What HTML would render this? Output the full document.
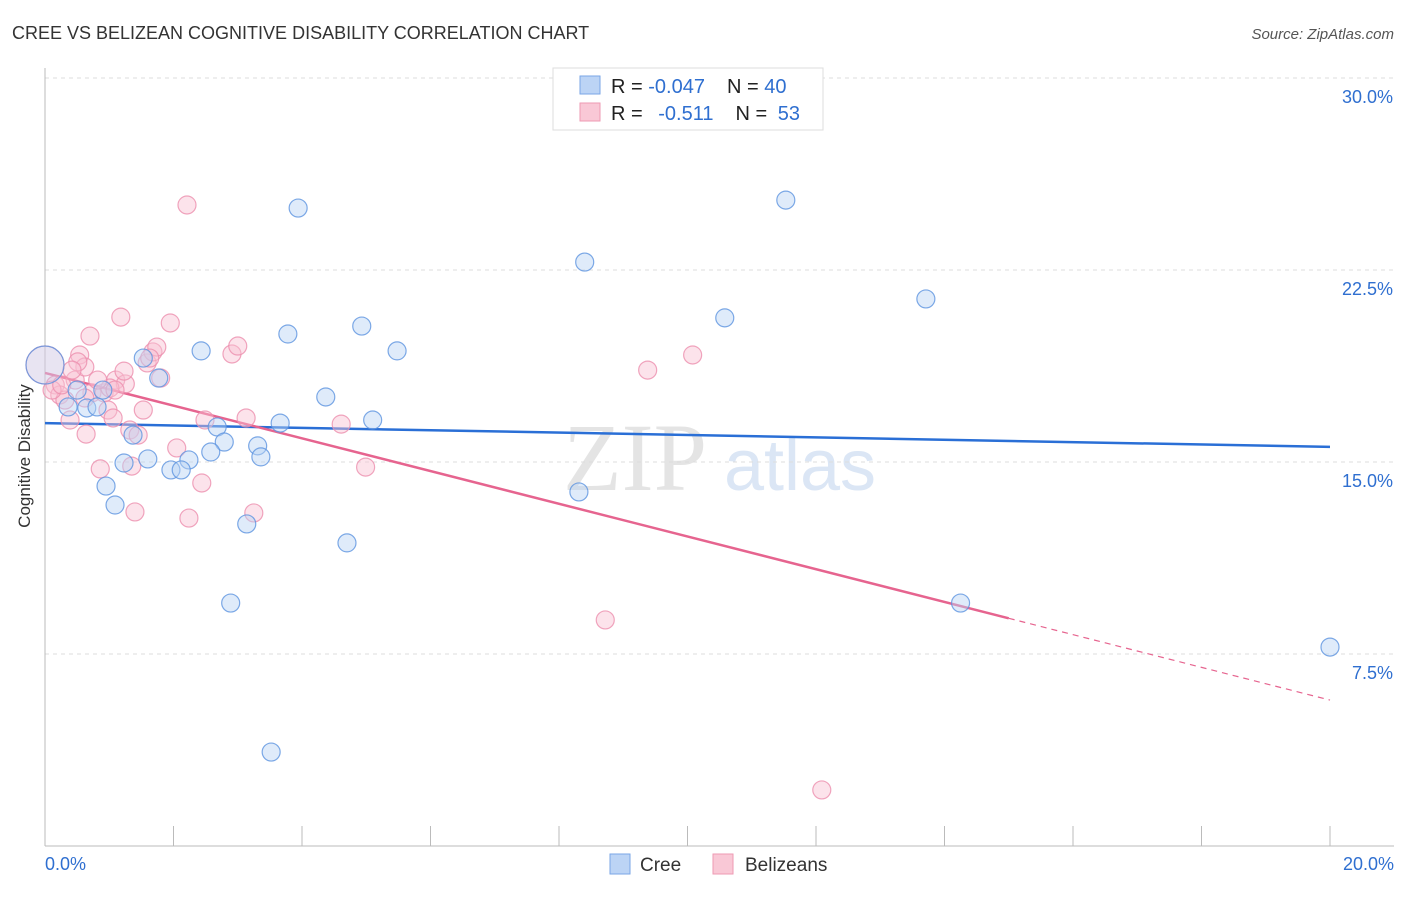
<!DOCTYPE html>
<html><head><meta charset="utf-8"><style>
body{margin:0;background:#fff;font-family:"Liberation Sans",sans-serif;}
svg text{font-family:"Liberation Sans",sans-serif;}
</style></head><body>
<svg id="chart" width="1406" height="892">
<text x="12" y="39" font-size="18" fill="#333">CREE VS BELIZEAN COGNITIVE DISABILITY CORRELATION CHART</text>
<text x="1394" y="39" font-size="15" fill="#555" text-anchor="end" font-style="italic">Source: ZipAtlas.com</text>
<text x="30" y="456" font-size="17" fill="#333" text-anchor="middle" transform="rotate(-90 30 456)">Cognitive Disability</text>
<g><text x="635" y="490" font-size="96" fill="#e4e4e4" text-anchor="middle" font-family="Liberation Serif" style="font-family:'Liberation Serif',serif">ZIP</text><text x="800" y="490" font-size="72" fill="#dbe6f5" text-anchor="middle">atlas</text></g>
<g id="grid"></g><g id="axes"></g><g id="trend"></g><g id="points"></g>
<g>
<rect x="553" y="68" width="270" height="62" fill="#fff" stroke="#ddd"/>
<rect x="580" y="76" width="20" height="18" fill="#bcd4f5" stroke="#7aa6e6"/>
<rect x="580" y="103" width="20" height="18" fill="#f9c8d6" stroke="#ee9ab3"/>
<text x="611" y="93" font-size="20" fill="#222">R = <tspan fill="#2f6fd0">-0.047</tspan><tspan dx="22">N = </tspan><tspan fill="#2f6fd0">40</tspan></text>
<text x="611" y="120" font-size="20" fill="#222">R = <tspan dx="10" fill="#2f6fd0">-0.511</tspan><tspan dx="22">N = </tspan><tspan dx="5" fill="#2f6fd0">53</tspan></text>
</g>
<g>
<rect x="610" y="854" width="20" height="20" fill="#bcd4f5" stroke="#7aa6e6"/>
<text x="640" y="871" font-size="19" fill="#333">Cree</text>
<rect x="713" y="854" width="20" height="20" fill="#f9c8d6" stroke="#ee9ab3"/>
<text x="745" y="871" font-size="19" fill="#333">Belizeans</text>
</g>
</svg>
<script>
const creeX=[0,0.50,0.36,0.65,0.81,1.53,1.77,2.43,3.78,3.94,4.93,5.48,4.37,5.10,3.66,2.68,2.79,2.58,3.31,3.36,2.24,1.60,1.23,1.96,2.12,0.95,1.09,1.37,3.14,4.70,2.89,3.52,8.40,8.31,10.58,11.53,13.71,14.25,20.0,0.90];
const creeY=[18.79,17.81,17.15,17.11,17.15,19.06,18.28,19.34,20.0,24.92,20.31,19.34,17.54,16.64,16.52,16.37,15.78,15.39,15.63,15.20,15.08,15.12,14.96,14.69,14.69,14.06,13.32,16.05,12.58,11.84,9.49,3.67,22.81,13.83,20.63,25.23,21.37,9.49,7.77,17.81];
const belX=[0,0.16,0.23,0.31,0.11,0.39,0.47,0.54,0.62,0.51,0.70,0.64,0.86,0.73,0.92,0.98,1.06,1.10,1.18,1.25,1.23,1.32,1.35,1.40,1.45,1.53,1.59,1.68,1.74,1.80,1.95,2.05,2.21,2.24,2.44,2.49,2.91,3.00,3.13,3.25,4.61,4.99,9.38,10.08,8.72,12.09,1.01,0.82,0.26,1.63,0.42,1.09,0.62];
const belY=[18.79,18.01,17.62,17.42,17.81,16.64,18.20,19.18,18.71,18.91,19.92,16.09,14.73,17.70,17.70,17.03,16.72,18.20,20.66,18.05,18.55,16.25,14.84,13.05,16.05,17.03,18.87,19.30,19.49,18.28,20.43,15.55,25.04,12.81,14.18,16.64,19.22,19.53,16.72,13.01,16.48,14.80,18.59,19.18,8.83,2.19,17.89,18.20,18.01,19.06,18.59,17.81,17.50];
const creeTrend=[16.52,15.59];
const belTrend=[18.48,5.7];
const belSolidEnd=15.0;
const yTicks=[7.5,15,22.5,30];
const yTickLabels=["7.5%","15.0%","22.5%","30.0%"];
const xTicks=[0,2,4,6,8,10,12,14,16,18,20];
const NS="http://www.w3.org/2000/svg";
const X=v=>45+v/20*1285, Y=v=>846-v/7.5*192;
function mk(t,a,p){const e=document.createElementNS(NS,t);for(const k in a)e.setAttribute(k,a[k]);p.appendChild(e);return e;}
const grid=document.getElementById('grid'),axes=document.getElementById('axes');
yTicks.forEach((t,i)=>{
 const l=mk('line',{x1:45,x2:1394,y1:Y(t),y2:Y(t),stroke:'#ddd','stroke-dasharray':'4,4'},grid);
 
 
 const tx=mk('text',{x:1393,y:Y(t)+25,'font-size':18,fill:'#2f6fd0','text-anchor':'end'},axes);
 tx.textContent=yTickLabels[i];
 
 
});
mk('line',{x1:45,x2:45,y1:68,y2:846,stroke:'#bbb'},axes);
mk('line',{x1:45,x2:1394,y1:846,y2:846,stroke:'#bbb'},axes);
xTicks.forEach(t=>{const l=mk('line',{x1:X(t),x2:X(t),y1:826,y2:846,stroke:'#bbb'},axes);
 
 });
let a=mk('text',{x:45,y:870,'font-size':18,fill:'#2f6fd0'},axes);a.textContent='0.0%';


a=mk('text',{x:1394,y:870,'font-size':18,fill:'#2f6fd0','text-anchor':'end'},axes);a.textContent='20.0%';


const pts=document.getElementById('points');
function dots(xs,ys,fill,stroke,name){xs.forEach((x,i)=>{
 const c=mk('circle',{cx:X(x),cy:Y(ys[i]),r:i===0?19:9,fill:fill,'fill-opacity':i===0?0.3:0.45,stroke:stroke,'stroke-opacity':0.8,'stroke-width':1.2},pts);
 
 });}
dots(belX,belY,'#f9c0d2','#ec8fae','belizean-point');
dots(creeX,creeY,'#b9d2f4','#5c94e0','cree-point');
const tr=document.getElementById('trend');
let l=mk('line',{x1:X(0),y1:Y(creeTrend[0]),x2:X(20),y2:Y(creeTrend[1]),stroke:'#2a6fd6','stroke-width':2.5},tr);


const bAt=v=>belTrend[0]+(belTrend[1]-belTrend[0])*v/20;
l=mk('line',{x1:X(0),y1:Y(bAt(0)),x2:X(belSolidEnd),y2:Y(bAt(belSolidEnd)),stroke:'#e6648f','stroke-width':2.5},tr);


l=mk('line',{x1:X(belSolidEnd),y1:Y(bAt(belSolidEnd)),x2:X(20),y2:Y(bAt(20)),stroke:'#e6648f','stroke-width':1.2,'stroke-dasharray':'6,5'},tr);


</script>
</body></html>
